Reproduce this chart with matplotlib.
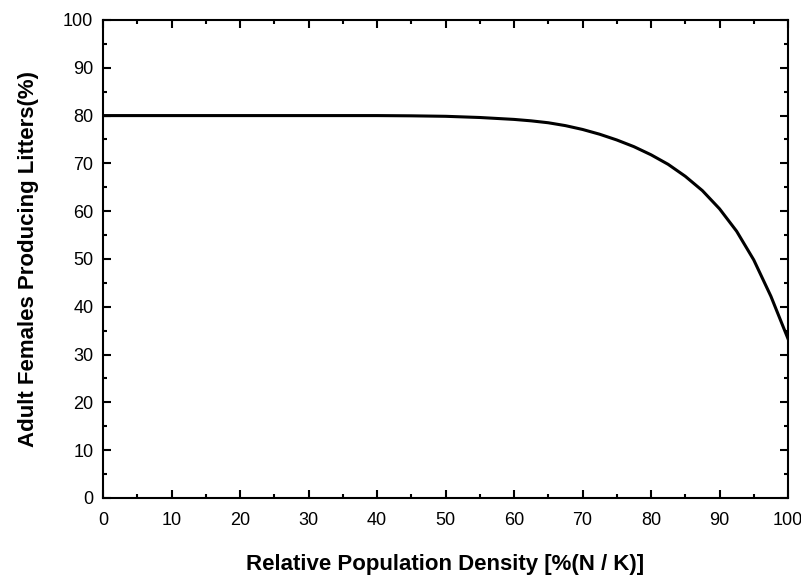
import matplotlib
matplotlib.use("Agg")
import matplotlib.pyplot as plt
from matplotlib.ticker import MultipleLocator

plt.rcParams['font.family'] = ['Liberation Sans', 'DejaVu Sans']

# values
density = [0, 10, 20, 30, 40, 45, 50, 55, 60, 62.5, 65, 67.5, 70, 72.5, 75, 77.5,
           80, 82.5, 85, 87.5, 90, 92.5, 95, 97.5, 100]
females = [80, 80, 80, 80, 80, 79.95, 79.85, 79.6, 79.2, 78.9, 78.5, 77.9, 77.1, 76.1, 74.9, 73.5,
           71.8, 69.8, 67.3, 64.3, 60.5, 55.8, 49.8, 42.2, 33.3]

fig = plt.figure(figsize=(8.01, 5.81), dpi=100)
ax = fig.add_axes([0.1286, 0.1429, 0.8552, 0.8227])

ax.plot(density, females, color='black', lw=2.2)

ax.set_xlim(0, 100)
ax.set_ylim(0, 100)
ax.xaxis.set_major_locator(MultipleLocator(10))
ax.xaxis.set_minor_locator(MultipleLocator(5))
ax.yaxis.set_major_locator(MultipleLocator(10))
ax.yaxis.set_minor_locator(MultipleLocator(5))
ax.tick_params(which='both', direction='in', top=True, right=True, width=1.5, labelsize=13)
ax.tick_params(axis='x', pad=10)
ax.tick_params(axis='y', pad=7)
ax.tick_params(which='major', length=5.5)
ax.tick_params(which='minor', length=3)
for s in ax.spines.values():
    s.set_linewidth(1.5)

ax.set_xlabel('Relative Population Density [%(N / K)]', fontsize=16, fontweight='bold', labelpad=18)
ax.set_ylabel('Adult Females Producing Litters(%)', fontsize=16, fontweight='bold', labelpad=17)

fig.savefig('out.png', dpi=100)
